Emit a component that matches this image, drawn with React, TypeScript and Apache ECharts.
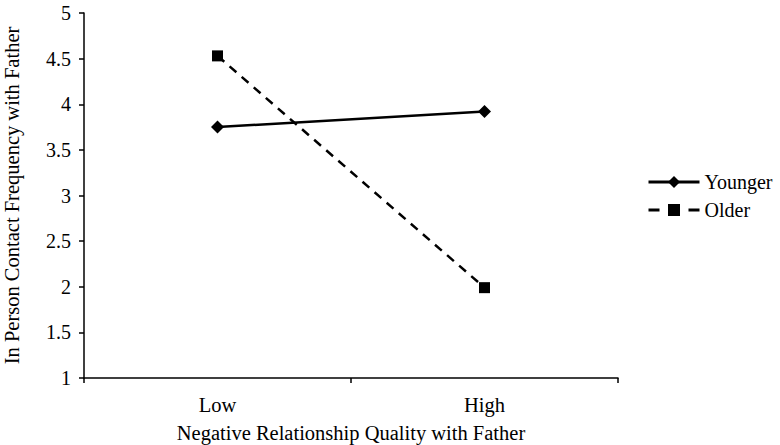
import React, { useEffect, useRef } from "react";
import * as echarts from "echarts";

const categories = ["Low", "High"];
const younger = [3.75, 3.92];
const older = [4.53, 1.99];
const yMin = 1;
const yMax = 5;
const yInterval = 0.5;

const FONT = "'Liberation Serif', 'Times New Roman', serif";

export default function App() {
  const ref = useRef<HTMLDivElement>(null);
  useEffect(() => {
    const chart = echarts.init(ref.current!, null, { renderer: "svg" });
    chart.setOption({
      animation: false,
      backgroundColor: "#ffffff",
      textStyle: { fontFamily: FONT, color: "#000" },
      grid: { left: 84, top: 13, right: 162, bottom: 67, containLabel: false, outerBoundsMode: "none" },
      legend: {
        orient: "vertical",
        left: 642,
        top: 167,
        itemWidth: 51,
        itemHeight: 15,
        itemGap: 8,
        textStyle: { fontFamily: FONT, fontSize: 20, color: "#000" },
        data: [
          { name: "Younger", lineStyle: { width: 3 } },
          { name: "Older", lineStyle: { width: 3, type: [11, 29] } },
        ],
      },
      xAxis: {
        type: "category",
        data: categories,
        boundaryGap: true,
        name: "Negative Relationship Quality with Father",
        nameLocation: "middle",
        nameGap: 44,
        nameTextStyle: { fontFamily: FONT, fontSize: 20.5, color: "#000" },
        axisLine: { lineStyle: { color: "#000", width: 1.5 } },
        axisTick: { show: true, inside: false, length: 5, lineStyle: { color: "#000", width: 1.5 } },
        axisLabel: { fontFamily: FONT, fontSize: 20.5, color: "#000", margin: 16 },
        splitLine: { show: false },
      },
      yAxis: {
        type: "value",
        min: yMin,
        max: yMax,
        interval: yInterval,
        name: "In Person Contact Frequency with Father",
        nameLocation: "middle",
        nameGap: 62,
        nameTextStyle: { fontFamily: FONT, fontSize: 20.5, color: "#000" },
        axisLine: { show: true, lineStyle: { color: "#000", width: 1.5 } },
        axisTick: { show: true, inside: false, length: 5, lineStyle: { color: "#000", width: 1.5 } },
        axisLabel: {
          fontFamily: FONT,
          fontSize: 20,
          color: "#000",
          margin: 13,
          formatter: (v: number) => String(v),
        },
        splitLine: { show: false },
      },
      series: [
        {
          name: "Younger",
          type: "line",
          data: younger,
          symbol: "diamond",
          symbolSize: 13,
          itemStyle: { color: "#000" },
          lineStyle: { color: "#000", width: 2.5, type: "solid" },
        },
        {
          name: "Older",
          type: "line",
          data: older,
          symbol: "rect",
          symbolSize: 11,
          itemStyle: { color: "#000" },
          lineStyle: { color: "#000", width: 2.5, type: [9, 7] },
        },
      ],
    });
    return () => chart.dispose();
  }, []);
  return <div ref={ref} style={{ width: 780, height: 445, position: "absolute", left: 0, top: 0 }} />;
}
